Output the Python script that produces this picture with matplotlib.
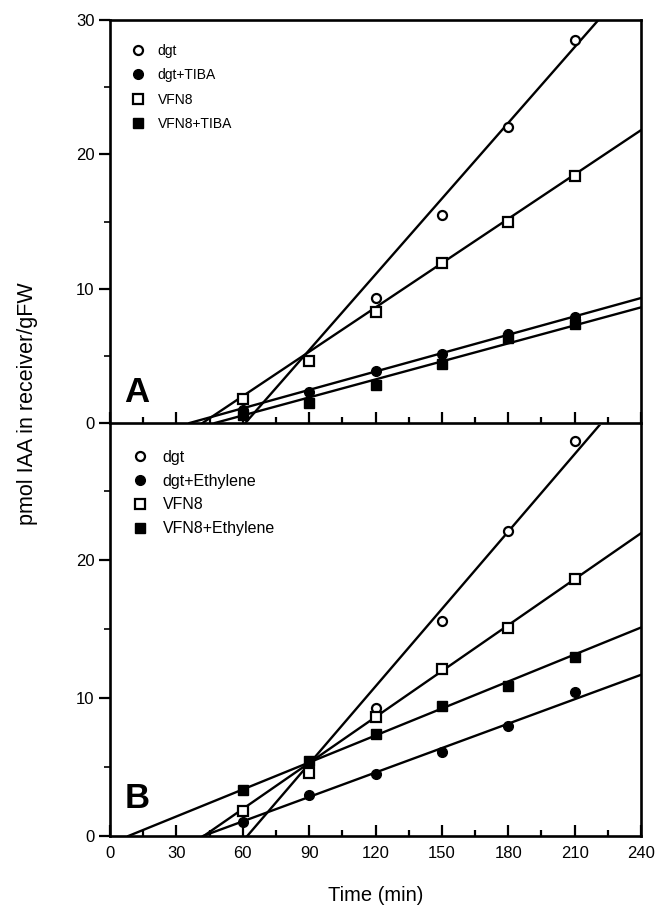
import matplotlib
matplotlib.use("Agg")
import matplotlib.pyplot as plt
import numpy as np
from matplotlib.ticker import MultipleLocator

plt.rcParams['font.family'] = ['Liberation Sans', 'DejaVu Sans']

time = [60, 90, 120, 150, 180, 210]

# Panel A
a_labels = ["dgt", "dgt+TIBA", "VFN8", "VFN8+TIBA"]
a_dgt = [None, None, 9.3, 15.5, 22.0, 28.5]
a_dgt_tiba = [1.0, 2.3, 3.9, 5.1, 6.6, 7.9]
a_vfn8 = [1.8, 4.6, 8.3, 11.9, 15.0, 18.4]
a_vfn8_tiba = [0.6, 1.5, 2.8, 4.4, 6.3, 7.4]
# regression lines (slope, intercept)
a_fit_slope = [0.188, 0.0456, 0.110, 0.0447]
a_fit_icpt = [-11.5, -1.64, -4.6, -2.12]

# Panel B
b_labels = ["dgt", "dgt+Ethylene", "VFN8", "VFN8+Ethylene"]
b_dgt = [None, None, 9.3, 15.6, 22.1, 28.6]
b_dgt_eth = [1.0, 3.0, 4.5, 6.1, 8.0, 10.4]
b_vfn8 = [1.8, 4.6, 8.6, 12.1, 15.1, 18.6]
b_vfn8_eth = [3.3, 5.4, 7.4, 9.4, 10.9, 13.0]
b_fit_slope = [0.187, 0.059, 0.111, 0.0652]
b_fit_icpt = [-11.6, -2.48, -4.7, -0.54]

x_ticks = [0, 30, 60, 90, 120, 150, 180, 210, 240]

markers = [dict(marker='o', mfc='white', mec='black', ms=6.5, mew=1.6),
           dict(marker='o', mfc='black', mec='black', ms=7, mew=1),
           dict(marker='s', mfc='white', mec='black', ms=6.5, mew=1.6),
           dict(marker='s', mfc='black', mec='black', ms=7, mew=1)]

fig = plt.figure(figsize=(6.6, 9.11), dpi=100)
W, H = 660, 911
L, R = 110, 641
axA = fig.add_axes([L / W, 1 - 423 / H, (R - L) / W, (423 - 20) / H])
axB = fig.add_axes([L / W, 1 - 836 / H, (R - L) / W, (836 - 425) / H])


def draw(ax, series, labels, slopes, icpts, ymax, fs, lsp, letter, lety):
    for i, (s, lab) in enumerate(zip(series, labels)):
        xs = [t for t, v in zip(time, s) if v is not None]
        ys = [v for v in s if v is not None]
        ax.plot(xs, ys, ls='none', label=lab, zorder=3, **markers[i])
    for m, b in zip(slopes, icpts):
        x0 = -b / m
        xx = np.array([x0, 240])
        ax.plot(xx, m * xx + b, color='black', lw=1.7, zorder=2)
    ax.set_xlim(0, 240)
    ax.set_ylim(0, ymax)
    ax.xaxis.set_major_locator(MultipleLocator(30))
    ax.xaxis.set_minor_locator(MultipleLocator(15))
    ax.yaxis.set_major_locator(MultipleLocator(10))
    ax.yaxis.set_minor_locator(MultipleLocator(5))
    ax.tick_params(axis='x', which='major', direction='in', length=8, width=1.6)
    ax.tick_params(axis='x', which='minor', direction='in', length=4, width=1.6)
    ax.tick_params(axis='y', which='major', direction='out', length=8, width=1.6,
                   labelsize=12, pad=3)
    ax.tick_params(axis='y', which='minor', direction='out', length=4, width=1.2)
    for sp in ax.spines.values():
        sp.set_linewidth(1.9)
    ax.legend(loc='upper left', frameon=False, fontsize=fs, labelspacing=lsp,
              handletextpad=0.9, borderaxespad=0.0, bbox_to_anchor=(0.03, 0.955),
              handlelength=1.0)
    ax.text(6.5, lety, letter, fontsize=25, fontweight='bold', ha='left', va='baseline')
    return ax


draw(axA, [a_dgt, a_dgt_tiba, a_vfn8, a_vfn8_tiba], a_labels, a_fit_slope, a_fit_icpt,
     30, 10, 0.75, "A", 1.6)
axA.set_yticks([0, 10, 20, 30])
axA.tick_params(axis='x', labelbottom=False)

draw(axB, [b_dgt, b_dgt_eth, b_vfn8, b_vfn8_eth], b_labels, b_fit_slope, b_fit_icpt,
     (836 - 425) / 13.8, 11.5, 0.55, "B", 2.0)
axB.spines['top'].set_visible(False)
axB.set_yticks([0, 10, 20])
axB.set_xticks(x_ticks)
axB.set_xticklabels([str(t) for t in x_ticks])
axB.tick_params(axis='x', labelsize=12, pad=7)
axB.set_xlabel("Time (min)", fontsize=14.5, labelpad=18)

fig.text(28 / W, 1 - 404 / H, "pmol IAA in receiver/gFW", rotation=90, fontsize=15.5,
         ha='center', va='center')

fig.savefig("out.png", dpi=100)
